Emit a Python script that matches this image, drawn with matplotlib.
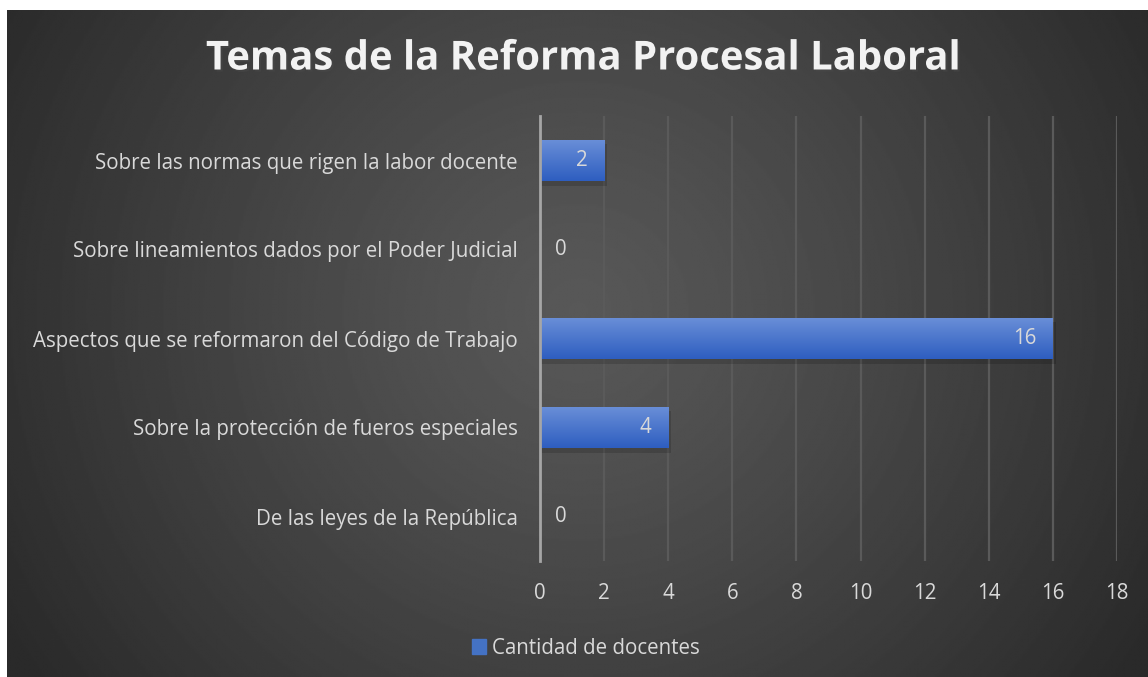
import numpy as np
import matplotlib
matplotlib.use("Agg")
import matplotlib.pyplot as plt
import matplotlib.patheffects as pe
from matplotlib.patches import Rectangle

# data
categories = [
    "De las leyes de la República",
    "Sobre la protección de fueros especiales",
    "Aspectos que se reformaron del Código de Trabajo",
    "Sobre lineamientos dados por el Poder Judicial",
    "Sobre las normas que rigen la labor docente",
]
docentes = [0, 4, 16, 0, 2]
xticks = [0, 2, 4, 6, 8, 10, 12, 14, 16, 18]

plt.rcParams['font.family'] = ['Open Sans', 'DejaVu Sans']
txt_col = '#d9d9d9'
fs = 14.8

W, H = 1148, 677
fig = plt.figure(figsize=(W / 100, H / 100), dpi=100)
fig.patch.set_facecolor('white')

# radial dark background
bg = fig.add_axes([7 / W, 0, 1 - 7 / W, 1 - 10 / H])
yy, xx = np.mgrid[0:400, 0:700]
cx, cy = 0.5 * 700, 0.45 * 400
r = np.sqrt(((xx - cx) / 700) ** 2 + ((yy - cy) / 400 * 0.6) ** 2)
r = np.clip(r / 0.58, 0, 1)
shade = 0.345 - (0.345 - 0.165) * r ** 1.2
bg.imshow(shade, cmap='gray', vmin=0, vmax=1, aspect='auto',
          extent=[0, 1, 0, 1], interpolation='bilinear')
bg.set_axis_off()

ax = fig.add_axes([540 / W, 1 - 561 / H, (1117 - 540) / W, (561 - 116) / H])
ax.patch.set_visible(False)
y = np.arange(len(categories))
bars = ax.barh(y, docentes, height=0.47, color='#4472c4', zorder=3)

# vertical gradient on each bar + soft shadow
grad = np.linspace(0, 1, 64).reshape(-1, 1)
top = np.array([0x6a, 0x8f, 0xd8]) / 255
bot = np.array([0x2e, 0x5e, 0xc0]) / 255
img = top + (bot - top) * grad[:, :, None]
for b, v in zip(bars, docentes):
    if v <= 0:
        continue
    x0, y0 = b.get_x(), b.get_y()
    w, h = b.get_width(), b.get_height()
    ax.add_patch(Rectangle((x0, y0 - 0.05), w + 0.1, h, facecolor='black',
                           alpha=0.15, edgecolor='none', zorder=2))
    im = ax.imshow(img, extent=[x0, x0 + w, y0, y0 + h], aspect='auto',
                   origin='upper', zorder=4)
    im.set_clip_path(b)

for yi, v in zip(y, docentes):
    if v > 0:
        ax.annotate(str(v), (v, yi), xytext=(-12, 0), textcoords='offset points',
                    ha='right', va='center', color=txt_col, fontsize=fs, zorder=5)
    else:
        ax.annotate(str(v), (0, yi), xytext=(11, 0), textcoords='offset points',
                    ha='left', va='center', color=txt_col, fontsize=fs, zorder=5)

ax.set_xlim(0, 18)
ax.set_ylim(-0.5, len(categories) - 0.5)
ax.set_xticks(xticks)
ax.set_yticks(y)
ax.set_yticklabels(categories)
ax.xaxis.grid(True, color='#5a5a5a', linewidth=1.6, zorder=0)
ax.set_axisbelow(True)
for s in ['top', 'right', 'bottom']:
    ax.spines[s].set_visible(False)
ax.spines['left'].set_color('#a6a6a6')
ax.spines['left'].set_linewidth(2)
ax.spines['left'].set_zorder(6)
ax.tick_params(axis='both', length=0, colors=txt_col, labelsize=fs)
ax.tick_params(axis='y', pad=16)
ax.tick_params(axis='x', pad=16)

fig.text(583 / W, 1 - 59 / H, "Temas de la Reforma Procesal Laboral",
         ha='center', va='center', color='#f2f2f2', fontsize=28.8,
         fontweight='bold',
         path_effects=[pe.withSimplePatchShadow(offset=(1.5, -1.5), alpha=0.5)])

leg = fig.legend(handles=[Rectangle((0, 0), 1, 1, color='#4472c4')],
                 labels=["Cantidad de docentes"], loc='center',
                 bbox_to_anchor=(586 / W, 1 - 648 / H), frameon=False,
                 handlelength=0.7, handleheight=0.7, handletextpad=0.3,
                 fontsize=fs, labelcolor=txt_col)

fig.savefig('out.png', dpi=100, facecolor=fig.get_facecolor())
